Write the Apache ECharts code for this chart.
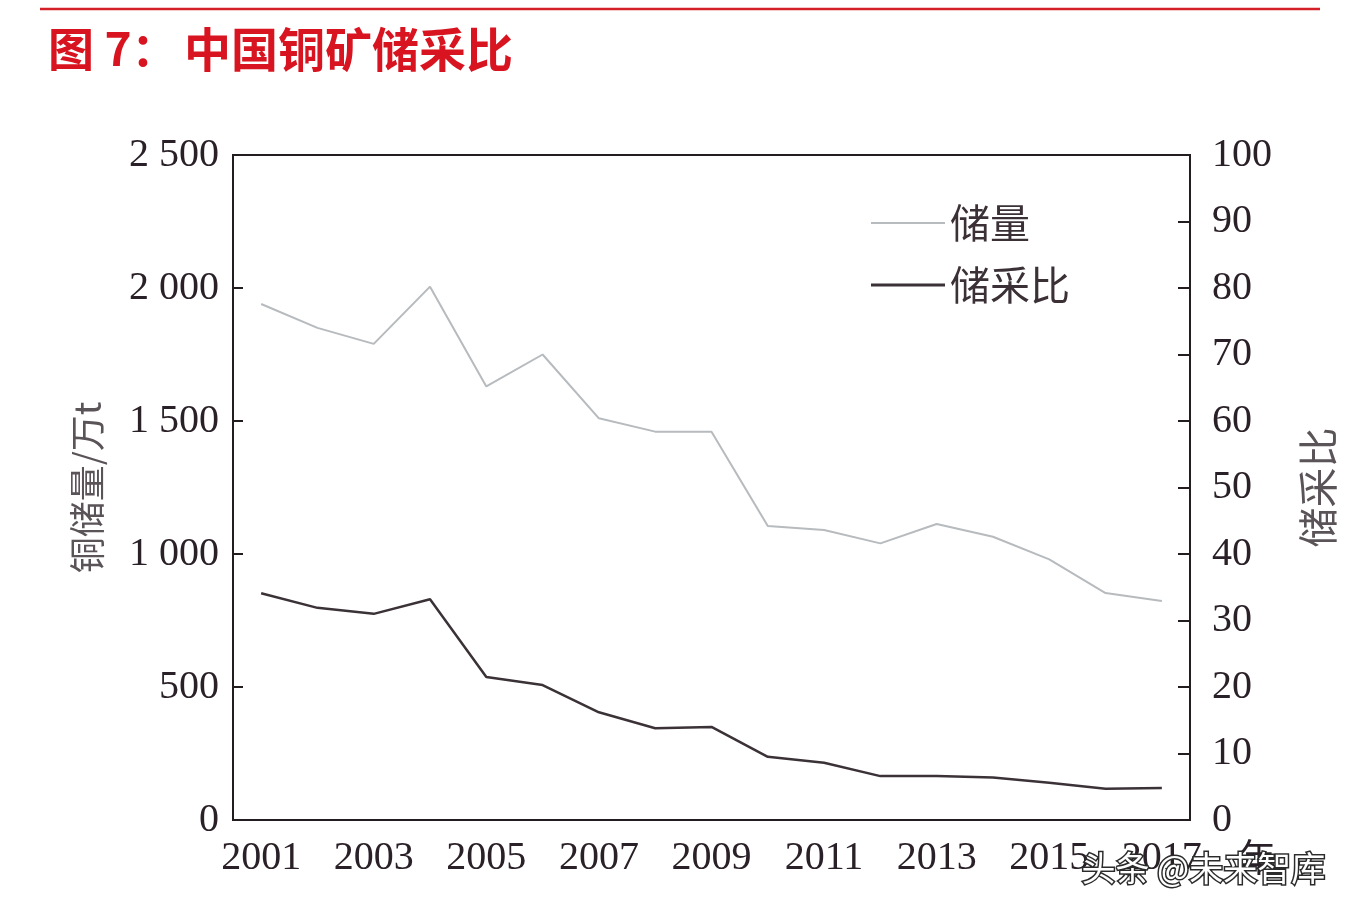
<!DOCTYPE html>
<html>
<head>
<meta charset="utf-8">
<script src="https://cdn.jsdelivr.net/npm/echarts@6/dist/echarts.min.js"></script>
<style>
html,body{margin:0;padding:0;background:#ffffff;}
#chart{width:1354px;height:914px;}
</style>
</head>
<body>
<div id="chart"></div>
<script>
const years = ['2001','2002','2003','2004','2005','2006','2007','2008','2009','2010','2011','2012','2013','2014','2015','2016','2017'];
const reserves = [1940,1850,1790,2005,1630,1750,1510,1460,1460,1105,1090,1040,1113,1065,980,853,823];
const reserveRatio = [34.1,31.9,31.0,33.2,21.5,20.3,16.2,13.8,14.0,9.5,8.6,6.6,6.6,6.4,5.6,4.7,4.8];
const leftTickLabels = ['0','500','1 000','1 500','2 000','2 500'];
const rightTickLabels = ['0','10','20','30','40','50','60','70','80','90','100'];
const seriesNames = ['储量','储采比'];
const titleParts = ['图 7：','中国铜矿储采比'];
const leftAxisName = '铜储量/万t';
const rightAxisName = '储采比';
const xAxisName = '年';
const watermark = '头条 @未来智库';

const axisColor = '#231c21';
const textColor = '#2a2027';
const serif = "'Liberation Serif','Times New Roman',serif";
const cjk = "'Noto Sans CJK SC','Noto Sans',sans-serif";
const reserveColor = '#b7bbbe';
const ratioColor = '#3b3238';

const chart = echarts.init(document.getElementById('chart'), null, {renderer:'canvas'});
chart.setOption({
  backgroundColor:'#ffffff',
  animation:false,
  graphic:[
    {type:'line', shape:{x1:40,y1:9,x2:1320,y2:9}, style:{stroke:'#d42027', lineWidth:2.5}},
    {type:'text', left:48, top:26, style:{text:titleParts[0], font:"bold 46px "+cjk, fill:'#d7141f'}},
    {type:'text', left:184, top:26, style:{text:titleParts[1], font:"bold 47px "+cjk, fill:'#d7141f'}},
    {type:'text', left:1080, top:850, z:100, style:{text:watermark, font:"34px "+cjk, fill:'#ffffff', stroke:'#2b2b2b', lineWidth:3}}
  ],
  legend:{
    orient:'vertical',
    left:866, top:198,
    itemWidth:74, itemHeight:14, itemGap:22,
    data:[
      {name:seriesNames[0], icon:'path://M0,6 L74,6 L74,8 L0,8 Z', itemStyle:{color:reserveColor}},
      {name:seriesNames[1], icon:'path://M0,5.5 L74,5.5 L74,8.5 L0,8.5 Z', itemStyle:{color:ratioColor}}
    ],
    textStyle:{fontFamily:cjk, fontSize:40, color:'#3a3036', padding:[0,0,0,0]}
  },
  grid:{left:233, right:164, top:155, bottom:94, show:true, borderColor:axisColor, borderWidth:2, containLabel:false},
  xAxis:{
    type:'category', data:years, boundaryGap:true,
    name:xAxisName, nameLocation:'end', nameGap:22,
    nameTextStyle:{fontFamily:cjk, fontSize:38, color:textColor, verticalAlign:'top', padding:[18,0,0,0]},
    axisLine:{lineStyle:{color:axisColor, width:2}},
    axisTick:{inside:true, length:10, interval:0, lineStyle:{color:axisColor, width:2}},
    axisLabel:{interval:1, fontFamily:serif, fontSize:40, color:textColor, margin:18}
  },
  yAxis:[
    {
      type:'value', min:0, max:2500, interval:500, position:'left',
      name:leftAxisName, nameLocation:'middle', nameRotate:90, nameGap:128,
      nameTextStyle:{fontFamily:cjk, fontSize:36, color:'#5a5358'},
      axisLine:{show:true, lineStyle:{color:axisColor, width:2}},
      axisTick:{show:true, inside:true, length:10, lineStyle:{color:axisColor, width:2}},
      splitLine:{show:false},
      axisLabel:{fontFamily:serif, fontSize:40, color:textColor, margin:14,
        formatter:function(v){return leftTickLabels[Math.round(v/500)];}}
    },
    {
      type:'value', min:0, max:100, interval:10, position:'right',
      name:rightAxisName, nameLocation:'middle', nameRotate:90, nameGap:108,
      nameTextStyle:{fontFamily:cjk, fontSize:40, color:'#5a5358'},
      axisLine:{show:true, lineStyle:{color:axisColor, width:2}},
      axisTick:{show:true, inside:true, length:12, lineStyle:{color:axisColor, width:2}},
      splitLine:{show:false},
      axisLabel:{fontFamily:serif, fontSize:40, color:textColor, margin:22,
        formatter:function(v){return rightTickLabels[Math.round(v/10)];}}
    }
  ],
  series:[
    {name:seriesNames[0], type:'line', yAxisIndex:0, data:reserves, symbol:'none',
      lineStyle:{color:reserveColor, width:2}, itemStyle:{color:reserveColor}},
    {name:seriesNames[1], type:'line', yAxisIndex:1, data:reserveRatio, symbol:'none',
      lineStyle:{color:ratioColor, width:2.5}, itemStyle:{color:ratioColor}}
  ]
});
</script>
</body>
</html>
